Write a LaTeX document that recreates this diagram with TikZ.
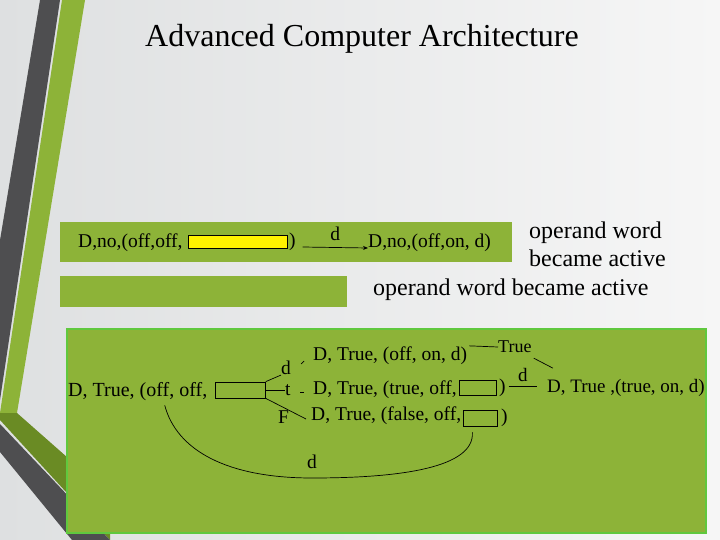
\documentclass[tikz,border=0pt]{standalone}
\usepackage{fontspec}
\setmainfont{Liberation Serif}
\usepackage{tikz}
\usetikzlibrary{arrows.meta,positioning}
\definecolor{slidegreen}{RGB}{141,179,56}
\definecolor{edgegreen}{RGB}{96,200,62}
\definecolor{olivegreen}{RGB}{106,139,36}
\definecolor{stripegray}{RGB}{78,78,80}
\definecolor{bgleft}{RGB}{222,224,225}
\definecolor{bgright}{RGB}{246,246,246}
\tikzset{
  panel/.style={fill=slidegreen, draw=none, anchor=north west, inner sep=0pt},
  txt/.style={anchor=west, inner sep=0pt, font=\fontsize{19.5}{22}\selectfont},
  tree/.style={anchor=west, inner sep=0pt, font=\fontsize{19.5}{22}\selectfont},
  note/.style={anchor=west, inner sep=0pt, align=left, font=\fontsize{24}{28}\selectfont},
  slot/.style={draw=black, line width=0.8pt, inner sep=0pt, anchor=west},
  link/.style={draw=black, line width=0.7pt},
  flow/.style={-{Stealth[length=5pt,width=4pt]}, draw=black, line width=0.7pt}
}

\begin{document}
\begin{tikzpicture}[x=1pt, y=-1pt]
  \useasboundingbox (0,0) rectangle (720,540);
  % slide background and side stripes
  \shade[left color=bgleft, right color=bgright] (0,0) rectangle (720,540);
  \fill[stripegray] (40,0) -- (60,0) -- (0,400) -- (0,240) -- cycle;
  \fill[slidegreen] (62,0) -- (85,0) -- (17,413) -- (0,413) -- cycle;
  \fill[olivegreen] (0,413) -- (17,413) -- (110,495) -- (110,540) -- (0,420) -- cycle;
  \fill[stripegray] (0,424) -- (110,540) -- (72,540) -- (0,452) -- cycle;

  \node[font=\fontsize{32}{36}\selectfont, inner sep=0pt] (title) at (362,39) {Advanced Computer Architecture};

  % first transition
  \node[panel, minimum width=452pt, minimum height=40pt] (barA) at (60,222) {};
  \node[panel, minimum width=287pt, minimum height=31pt] (barB) at (60,276) {};
  \node[txt] (srcA) at (78,243) {D,no,(off,off,};
  \node[slot, fill=yellow, minimum width=99pt, minimum height=13pt] (slotA) at (188,242) {};
  \node[txt, right=1pt of slotA] (closeA) {)};
  \node[txt] (dstA) at (368,243) {D,no,(off,on, d)};
  \draw[flow] ([shift={(7,5)}]closeA.east) -- ([shift={(0,5)}]dstA.west)
    node[midway, above=3pt, font=\fontsize{19.5}{22}\selectfont] {d};

  \node[note] (noteA) at (529,244) {operand word\\became active};
  \node[note] (noteB) at (373,290) {operand word became active};

  % decision tree
  \node[panel, minimum width=639pt, minimum height=204pt, draw=edgegreen, line width=2pt] (tree) at (66,328) {};
  \node[tree, font=\fontsize{20}{23}\selectfont] (rootC) at (68,392) {D, True, (off, off,};
  \node[slot, minimum width=50pt, minimum height=16pt] (slotC) at (215,390) {};
  \node[tree] (lblD) at (281,368) {d};
  \node[tree] (lblT) at (285,390) {t};
  \node[tree] (lblF) at (278,417) {F};

  \node[tree] (rowD) at (313,356) {D, True, (off, on, d)};
  \node[tree] (rowT) at (313,390) {D, True, (true, off,};
  \node[slot, minimum width=37pt, minimum height=15pt] (slotT) at (459,388) {};
  \node[tree, right=2pt of slotT] (closeT) {)};
  \node[tree] (rowF) at (311,416) {D, True, (false, off,};
  \node[slot, minimum width=34pt, minimum height=16pt] (slotF) at (463,418) {};
  \node[tree, right=3pt of slotF] (closeF) {)};
  \node[tree, font=\fontsize{18}{20}\selectfont] (lblTrue) at (498,347) {True};
  \node[tree, font=\fontsize{19}{21}\selectfont] (rowE) at (547,388) {D, True ,(true, on, d)};

  \draw[link] (slotC.north east) -- (lblD.south west);
  \draw[link] (slotC.east) -- (lblT.west);
  \draw[link] (slotC.south east) -- ([shift={(-5,3)}]rowF.west);
  \draw[link] ([shift={(-12,8)}]rowD.west) -- ([shift={(-9,5)}]rowD.west);
  \draw[link] ([shift={(-13,2)}]rowT.west) -- ([shift={(-9,2)}]rowT.west);

  \draw[link] ([shift={(2,-1)}]rowD.north east) -- (lblTrue.west);
  \draw[link] ([shift={(2,5)}]lblTrue.south east) -- ([shift={(6,-11)}]rowE.north west);
  \draw[link] ([shift={(3,-2)}]closeT.east) -- ([shift={(-10,-2)}]rowE.west)
    node[midway, above=1pt, font=\fontsize{19}{21}\selectfont] {d};

  \coordinate (arcB) at (312,478);
  \draw[link] ([shift={(27,4)}]rootC.south) .. controls +(12,45) and +(-85,0) .. (arcB)
    .. controls +(90,0) and +(2,35) .. ([shift={(-8,6)}]slotF.south);
  \node[tree, anchor=south] (lblArc) at ([shift={(0,-9)}]arcB) {d};
\end{tikzpicture}
\end{document}
